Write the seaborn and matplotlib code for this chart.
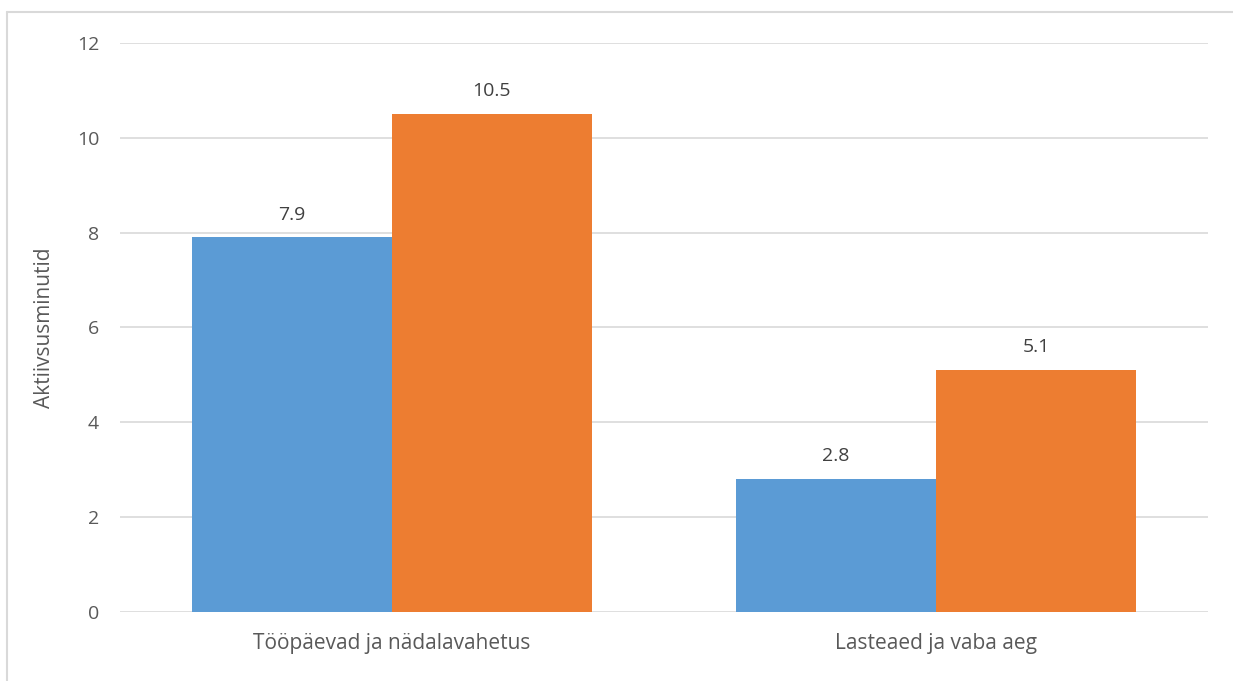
import pandas as pd
import matplotlib
matplotlib.use("Agg")
import matplotlib.pyplot as plt
import seaborn as sns
from matplotlib.lines import Line2D

# Data
categories = ["Tööpäevad ja nädalavahetus", "Lasteaed ja vaba aeg"]
series_names = ["A", "B"]
values_a = [7.9, 2.8]
values_b = [10.5, 5.1]
y_ticks = [0, 2, 4, 6, 8, 10, 12]

df = pd.DataFrame({
    "Kategooria": categories * 2,
    "Rühm": [series_names[0]] * 2 + [series_names[1]] * 2,
    "Aktiivsusminutid": values_a + values_b,
})

sns.set_theme(style="white")
plt.rcParams["font.family"] = ["Open Sans", "DejaVu Sans"]

text_col = "#595959"
grid_col = "#D9D9D9"

fig = plt.figure(figsize=(12.33, 6.81), dpi=100)
ax = fig.add_axes([0.0973, 0.1013, 0.8824, 0.8356])

sns.barplot(data=df, x="Kategooria", y="Aktiivsusminutid", hue="Rühm",
            palette=["#5B9BD5", "#ED7D31"], width=0.735, gap=0,
            saturation=1, legend=False, ax=ax, zorder=3, linewidth=0)

for cont in ax.containers:
    ax.bar_label(cont, fmt="%.1f", padding=10, fontsize=14, color="#404040")

ax.set_xlim(-0.5, 1.5)
ax.set_ylim(0, 12)
ax.set_yticks(y_ticks)
ax.yaxis.grid(True, color=grid_col, linewidth=1.2, zorder=0)
ax.set_axisbelow(True)
for s in ax.spines.values():
    s.set_visible(False)
ax.tick_params(axis="both", length=0, labelsize=14, colors=text_col)
ax.tick_params(axis="x", labelsize=15, pad=15)
ax.tick_params(axis="y", pad=15)
ax.set_xlabel("")
ax.set_ylabel("Aktiivsusminutid", fontsize=15, color=text_col, labelpad=16)

# light frame around the chart area (left and top visible)
fig.add_artist(Line2D([0.0057, 0.0057], [0, 0.9824], color="#D9D9D9", lw=1.5))
fig.add_artist(Line2D([0.0057, 1.0], [0.9824, 0.9824], color="#D9D9D9", lw=1.5))

fig.savefig("out.png", dpi=100)
